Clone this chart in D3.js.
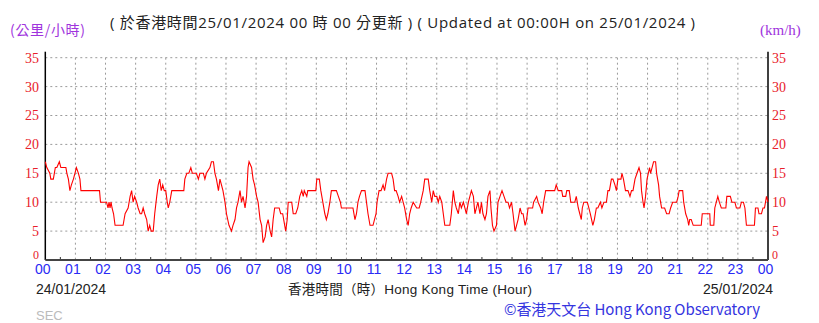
<!DOCTYPE html>
<html><head><meta charset="utf-8">
<script src="https://cdn.jsdelivr.net/npm/d3@7"></script>
<style>
html,body{margin:0;padding:0;background:#fff;}
svg{display:block;}
</style></head>
<body>
<svg id="chart" width="819" height="323"></svg>
<script>
// ---- data ----
const hourLabels = ["00","01","02","03","04","05","06","07","08","09","10","11","12","13","14","15","16","17","18","19","20","21","22","23","00"];
const yTicks = [0,5,10,15,20,25,30,35];
// minutes since 00:00 on 24/01/2024
const minutes = [0,3,9,11,16,18,20,23,28,31,41,43,46,49,52,56,62,66,69,71,108,110,122,125,127,129,131,133,136,139,155,159,165,169,172,175,178,182,185,189,192,195,198,202,205,208,211,215,218,222,225,228,231,234,237,240,243,245,248,252,276,278,282,286,290,293,298,301,305,308,315,318,321,328,331,335,338,341,345,348,351,354,358,361,366,371,374,378,381,384,388,391,394,398,401,404,406,411,414,417,421,424,428,431,434,438,441,444,448,451,454,457,
459,466,469,473,477,479,482,484,491,494,499,503,507,511,514,516,521,523,539,541,546,549,553,557,560,563,567,570,580,584,588,590,613,617,620,623,626,630,637,640,643,647,653,659,661,665,669,673,676,680,683,690,693,696,699,703,706,710,713,716,720,723,726,729,733,740,745,748,753,756,763,766,770,773,776,780,783,786,790,793,796,806,809,813,816,819,823,826,829,833,836,839,843,846,849,853,856,859,862,866,869,872,876,879,882,886,888,891,894,899,902,906,910,914,918,922,925,
929,932,936,939,942,946,949,952,956,959,962,971,973,979,982,987,990,993,997,1015,1018,1022,1029,1031,1037,1039,1044,1047,1055,1058,1062,1065,1068,1070,1073,1080,1083,1086,1091,1094,1098,1101,1106,1109,1113,1118,1121,1124,1128,1131,1135,1138,1141,1147,1149,1152,1156,1161,1165,1168,1171,1175,1179,1183,1186,1188,1191,1193,1196,1199,1204,1206,1209,1212,1216,1218,1222,1224,1228,1234,1238,1243,1246,1250,1258,1261,1263,1270,1272,1276,1280,1282,1284,1287,1291,1307,1309,1324,1325,1332,1334,1337,1340,1343,1347,1356,1358,1365,1368,1374,1377,1384,1387,1391,1394,1397,1413,1415,1420,1422,1427,1430,1433,1437,1440];
// wind speed (km/h)
const speeds = [17,16,15,14,14,15,16,16,17,16,16,15,14,12,13,14,16,15,14,12,12,10,10,9,10,9,10,9,8,6,6,8,9,11,12,10,11,10,9,8,8,9,8,7,5,6,5,5,8,11,13,14,12,13,12,12,10,9,10,12,12,14,15,15,16,15,15,15,14,15,15,14,15,16,17,17,15,14,12,14,13,12,10,8,6,5,6,7,9,10,12,10,11,9,11,16,17,16,14,13,11,10,7,6,3,4,6,7,5,4,7,9,
9,9,8,8,6,5,7,10,10,8,8,9,11,12,11,12,11,12,12,14,14,12,10,8,7,8,10,12,12,11,10,9,9,7,8,10,11,12,12,10,8,6,6,8,10,12,12,13,12,14,15,15,14,12,12,11,10,11,10,9,7,6,8,9,10,9,9,10,12,14,14,12,10,12,11,11,10,11,10,8,6,6,8,12,10,9,8,10,9,10,9,8,10,11,12,11,8,9,10,8,10,8,7,8,11,12,9,6,5,6,10,11,12,11,10,10,9,
10,8,5,6,7,9,8,8,6,7,9,9,10,11,10,9,8,10,12,12,13,12,12,11,11,12,12,10,10,11,9,8,7,9,10,10,9,8,6,7,9,9,10,9,10,10,12,12,14,14,13,12,14,14,15,14,12,12,11,12,12,14,15,16,15,12,10,9,11,14,16,15,16,17,17,15,13,11,9,9,8,8,9,10,10,11,12,12,10,8,7,6,7,7,6,6,8,8,6,6,9,10,11,10,9,9,11,11,10,10,9,9,10,10,9,6,6,9,9,8,8,9,9,11,10];

// ---- chart ----
const svg = d3.select("#chart");
const x = d3.scaleLinear().domain([0,1440]).range([45.3,768]);
const y = d3.scaleLinear().domain([0,35]).range([260,57.7]);
const cjk = "'Open Sans','Noto Sans CJK TC',sans-serif";
const cjkOnly = "'Noto Sans CJK TC','Noto Sans',sans-serif";
const sans = "'Liberation Sans','Noto Sans CJK TC',sans-serif";
const serif = "'Liberation Serif','DejaVu Serif',serif";

// grid
const hoursTicks = d3.range(1,24).map(h=>h*60);
svg.append("g").selectAll("line").data(hoursTicks).join("line")
  .attr("x1",d=>x(d)).attr("x2",d=>x(d)).attr("y1",y(35)).attr("y2",y(0))
  .attr("stroke","#9a9a9a").attr("stroke-dasharray","2,3").attr("stroke-width",1);
svg.append("g").selectAll("line").data(yTicks.filter(d=>d>0)).join("line")
  .attr("x1",x(0)).attr("x2",x(1440)).attr("y1",d=>y(d)).attr("y2",d=>y(d))
  .attr("stroke","#9a9a9a").attr("stroke-dasharray","2,3").attr("stroke-width",1);

// minor ticks at half hours
svg.append("g").selectAll("line").data(d3.range(0,24).map(h=>h*60+30)).join("line")
  .attr("x1",d=>x(d)).attr("x2",d=>x(d)).attr("y1",y(0)).attr("y2",y(0)-3)
  .attr("stroke","#333").attr("stroke-width",1);

// axes lines
svg.append("line").attr("x1",x(0)).attr("x2",x(0)).attr("y1",y(35)-6).attr("y2",y(0)).attr("stroke","#000").attr("stroke-width",1.5);
svg.append("line").attr("x1",x(1440)).attr("x2",x(1440)).attr("y1",y(35)-6).attr("y2",y(0)).attr("stroke","#000").attr("stroke-width",1.5);
svg.append("line").attr("x1",x(0)).attr("x2",x(1440)).attr("y1",y(0)).attr("y2",y(0)).attr("stroke","#444").attr("stroke-width",2);

// y labels
const yl = d=> d===0 ? y(d)-5 : y(d);
svg.append("g").selectAll("text").data(yTicks).join("text")
  .attr("x",39).attr("y",yl).attr("dy","0.35em").attr("text-anchor","end")
  .attr("font-family",serif).attr("font-size",d=>d===0?12:14).attr("fill","#e8202a").text(d=>d);
svg.append("g").selectAll("text").data(yTicks).join("text")
  .attr("x",772).attr("y",yl).attr("dy","0.35em").attr("text-anchor","start")
  .attr("font-family",serif).attr("font-size",d=>d===0?12:14).attr("fill","#e8202a").text(d=>d);

// x labels
svg.append("g").selectAll("text").data(hourLabels).join("text")
  .attr("x",(d,i)=>x(i*60)-2.5).attr("y",269).attr("dy","0.35em").attr("text-anchor","middle")
  .attr("font-family",sans).attr("font-size",14).attr("fill","#2a2af5").text(d=>d);

// line
const line = d3.line().x((d,i)=>x(minutes[i])).y(d=>y(d));
svg.append("path").datum(speeds).attr("d",line).attr("fill","none")
  .attr("stroke","#ff0000").attr("stroke-width",1.1);

// texts
svg.append("text").attr("x",110).attr("y",23).attr("dy","0.35em")
  .attr("font-family",cjk).attr("font-size",15).attr("fill","#222")
  .attr("textLength",585).attr("lengthAdjust","spacing")
  .text("( 於香港時間25/01/2024 00 時 00 分更新 )  ( Updated at 00:00H on 25/01/2024 )");
svg.append("text").attr("x",10).attr("y",30).attr("dy","0.35em")
  .attr("font-family",cjkOnly).attr("font-size",14).attr("fill","#a033dd")
  .attr("textLength",75).attr("lengthAdjust","spacing").text("(公里/小時)");
svg.append("text").attr("x",760).attr("y",30).attr("dy","0.35em")
  .attr("font-family",serif).attr("font-size",15).attr("fill","#a033dd").text("(km/h)");
svg.append("text").attr("x",36).attr("y",289).attr("dy","0.35em")
  .attr("font-family",sans).attr("font-size",14).attr("fill","#222").text("24/01/2024");
svg.append("text").attr("x",410).attr("y",289).attr("dy","0.35em").attr("text-anchor","middle")
  .attr("font-family",sans).attr("font-size",13.5).attr("fill","#222")
  .attr("textLength",244).attr("lengthAdjust","spacing").text("香港時間（時）Hong Kong Time (Hour)");
svg.append("text").attr("x",773).attr("y",289).attr("dy","0.35em").attr("text-anchor","end")
  .attr("font-family",sans).attr("font-size",14).attr("fill","#222").text("25/01/2024");
svg.append("text").attr("x",36).attr("y",315).attr("dy","0.35em")
  .attr("font-family",sans).attr("font-size",13).attr("fill","#bbbbbb").text("SEC");
svg.append("text").attr("x",504).attr("y",310).attr("dy","0.35em")
  .attr("font-family",cjkOnly).attr("font-size",15).attr("fill","#3535e0")
  .attr("textLength",256).attr("lengthAdjust","spacing").text("©香港天文台 Hong Kong Observatory");
</script>
</body></html>
